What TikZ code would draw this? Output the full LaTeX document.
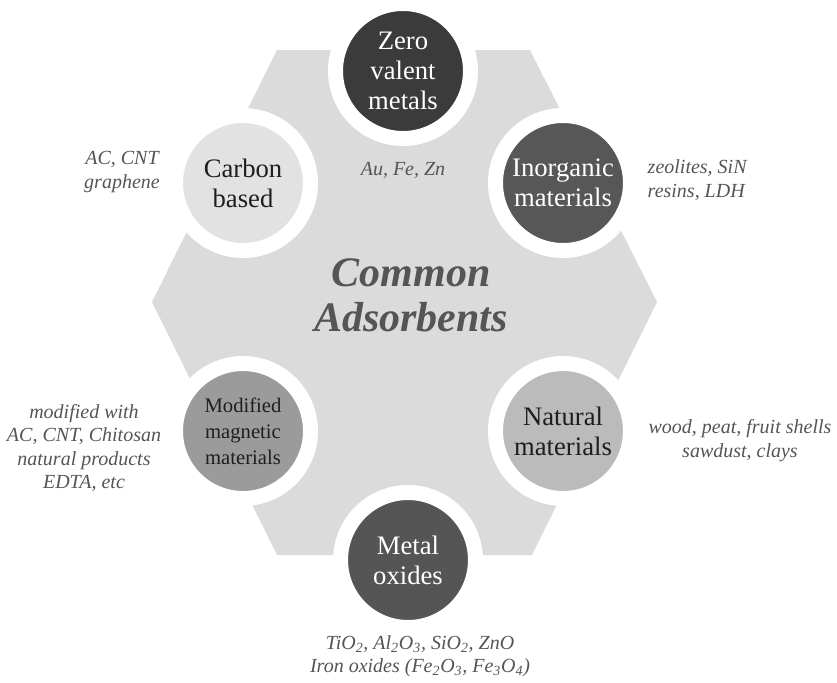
\documentclass[tikz,border=0pt]{standalone}
\usepackage{fontspec}
\setmainfont{Liberation Serif}

\definecolor{hexgray}{HTML}{DBDBDB}
\definecolor{notegray}{HTML}{555555}
\definecolor{inkgray}{HTML}{1E1E1E}
\definecolor{zerofill}{HTML}{3B3B3B}
\definecolor{inorgfill}{HTML}{575757}
\definecolor{naturfill}{HTML}{BBBBBB}
\definecolor{metoxfill}{HTML}{555555}
\definecolor{magnetfill}{HTML}{9B9B9B}
\definecolor{carbonfill}{HTML}{E2E2E2}

\tikzset{
  disc/.style={circle, minimum size=101.25pt, inner sep=0pt, draw=white,
    line width=11.25pt, align=center, font=\fontsize{20}{22.5}\selectfont},
  smalldisc/.style={disc, font=\fontsize{15.5}{19.5}\selectfont},
  note/.style={align=center, text=notegray, font=\fontsize{15}{18}\selectfont\itshape},
}

\begin{document}
\begin{tikzpicture}[x=0.75pt,y=0.75pt,yscale=-1,xscale=1]

\useasboundingbox (0, 0) rectangle (837, 682);

% background hexagon
\fill [hexgray] (277, 50) -- (530, 50) -- (657, 302) -- (532, 555) -- (277, 555) -- (152, 302) -- cycle;

\draw (411, 295) node [align=center, text=notegray, font=\fontsize{31.5}{34}\selectfont\bfseries\itshape] (title) {Common\\Adsorbents};

% the six classes
\draw (403, 71) node [disc, fill=zerofill, text=white] (zerov) {Zero\\valent\\metals};
\draw (563, 183) node [disc, fill=inorgfill, text=white] (inorg) {Inorganic\\materials};
\draw (563, 431) node [disc, fill=naturfill, text=inkgray] (natur) {Natural\\materials};
\draw (408, 560) node [disc, fill=metoxfill, text=white] (metox) {Metal\\oxides};
\draw (243, 431) node [smalldisc, fill=magnetfill, text=inkgray] (magnet) {Modified\\magnetic\\materials};
\draw (243, 183) node [disc, fill=carbonfill, text=inkgray] (carbon) {Carbon\\based};

% examples
\draw (122, 172) node [note] (carbonex) {AC, CNT\\graphene};
\draw (403, 170) node [note] (zerovex) {Au, Fe, Zn};
\draw (643, 180) node [note, anchor=west, align=left] (inorgex) {zeolites, SiN\\resins, LDH};
\draw (740, 441) node [note] (naturex) {wood, peat, fruit shells\\sawdust, clays};
\draw (84, 448) node [note, font=\fontsize{15}{17.5}\selectfont\itshape] (magnetex) {modified with\\AC, CNT, Chitosan\\natural products\\EDTA, etc};
\draw (420, 656) node [note, font=\fontsize{15}{17}\selectfont\itshape] (metoxex) {TiO\textsubscript{2}, Al\textsubscript{2}O\textsubscript{3}, SiO\textsubscript{2}, ZnO\\Iron oxides (Fe\textsubscript{2}O\textsubscript{3}, Fe\textsubscript{3}O\textsubscript{4})};

\end{tikzpicture}
\end{document}
